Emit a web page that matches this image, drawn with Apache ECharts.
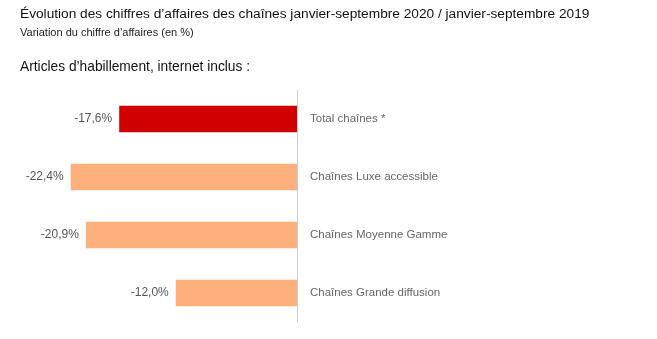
<!DOCTYPE html>
<html><head><meta charset="utf-8">
<script src="https://cdn.jsdelivr.net/npm/echarts@6/dist/echarts.min.js"></script>
<style>html,body{margin:0;padding:0;background:#fff}#c{width:657px;height:339px}</style>
</head><body><div id="c"></div>
<script>
const categories = ["Total chaînes *", "Chaînes Luxe accessible", "Chaînes Moyenne Gamme", "Chaînes Grande diffusion"];
const values = [-17.6, -22.4, -20.9, -12.0];
const barColors = ["#d10000", "#fdb07c", "#fdb07c", "#fdb07c"];

const chart = echarts.init(document.getElementById('c'), null, {renderer: 'canvas'});
const font = "'Liberation Sans', Arial, Helvetica, sans-serif";
chart.setOption({
  animation: false,
  textStyle: {fontFamily: font},
  title: [
    {text: "Évolution des chiffres d’affaires des chaînes janvier-septembre 2020 / janvier-septembre 2019", left: 15, top: 2,
     textStyle: {fontSize: 13.7, fontWeight: 'normal', color: '#111', fontFamily: font}},
    {text: "Variation du chiffre d’affaires (en %)", left: 15, top: 22,
     textStyle: {fontSize: 11, fontWeight: 'normal', color: '#222', fontFamily: font}},
    {text: "Articles d’habillement, internet inclus :", left: 15, top: 55,
     textStyle: {fontSize: 13.75, fontWeight: 'normal', color: '#111', fontFamily: font}}
  ],
  grid: {left: 0, right: 360, top: 90, bottom: 17, containLabel: false},
  xAxis: {type: 'value', min: -29.4, max: 0, show: false},
  yAxis: {
    type: 'category', data: categories, inverse: true, position: 'right',
    axisLine: {show: true, lineStyle: {color: '#cccccc', width: 1}},
    axisTick: {show: false},
    axisLabel: {margin: 13, color: '#666', fontSize: 11.5, fontFamily: font, align: 'left'}
  },
  series: [{
    type: 'bar',
    data: values.map((v, i) => ({value: v, itemStyle: {color: barColors[i]}})),
    barCategoryGap: '54%',
    label: {show: true, position: 'left', distance: 7, color: '#555', fontSize: 12, fontFamily: font,
      formatter: p => p.value.toFixed(1).replace('.', ',') + '%'}
  }]
});
</script></body></html>
